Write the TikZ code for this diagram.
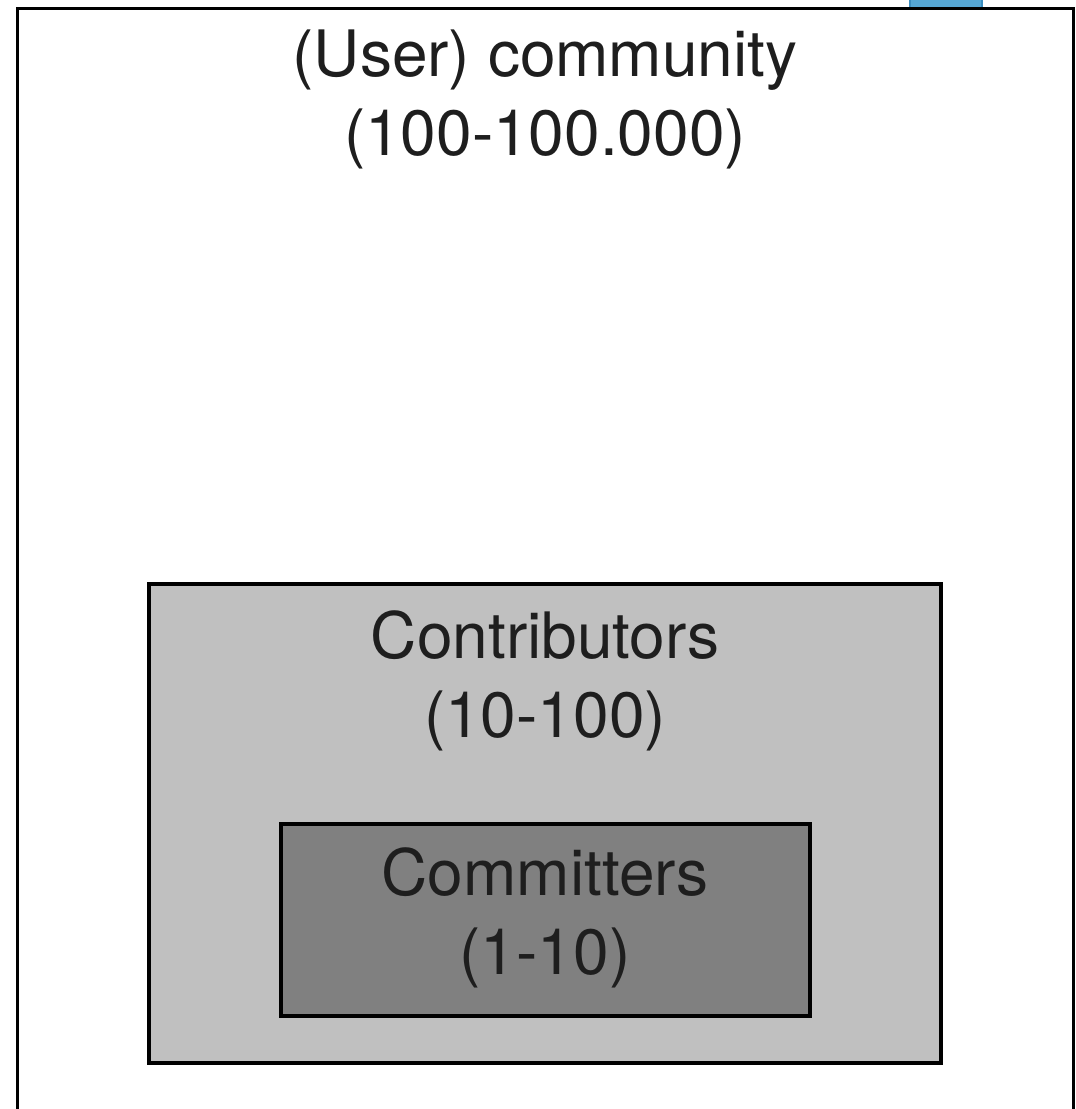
\documentclass[tikz,border=0pt]{standalone}
\usepackage{fontspec}
\setmainfont{TeX Gyre Heros}
\definecolor{inkgray}{HTML}{1E1E1E}
\definecolor{contribfill}{HTML}{C0C0C0}
\definecolor{committerfill}{HTML}{808080}
\definecolor{tabblue}{HTML}{55A7D5}
\definecolor{tabedge}{HTML}{3A8DBF}
\tikzset{
  groupbox/.style={draw=black, line width=3.4pt},
  % anchor=base sits on the baseline of the last line
  grouplabel/.style={text=inkgray, align=center, inner sep=0pt, anchor=base,
    font=\fontsize{64}{79}\selectfont},
}
\begin{document}
\begin{tikzpicture}[x=1pt, y=-1pt]
  \useasboundingbox (0,0) rectangle (1076,1109);
  \clip (0,0) rectangle (1076,1109);
  % blue tab peeking in above the outer frame
  \fill[tabblue] (909,-10) rectangle (983,8);
  \draw[tabedge, line width=2pt] (910,-10) -- (910,8) (982,-10) -- (982,8);
  % nested groups
  \draw[groupbox, fill=white] (17.5,8.5) rectangle (1073.5,1130);
  \draw[groupbox, fill=contribfill] (149,584) rectangle (941,1063);
  \draw[groupbox, fill=committerfill] (281,824) rectangle (810,1016);
  % labels
  \node[grouplabel] (community) at (545,155) {(User) community\\(100-100.000)};
  \node[grouplabel] (contributors) at (545,737) {Contributors\\(10-100)};
  \node[grouplabel] (committers) at (545,974) {Committers\\(1-10)};
\end{tikzpicture}
\end{document}
